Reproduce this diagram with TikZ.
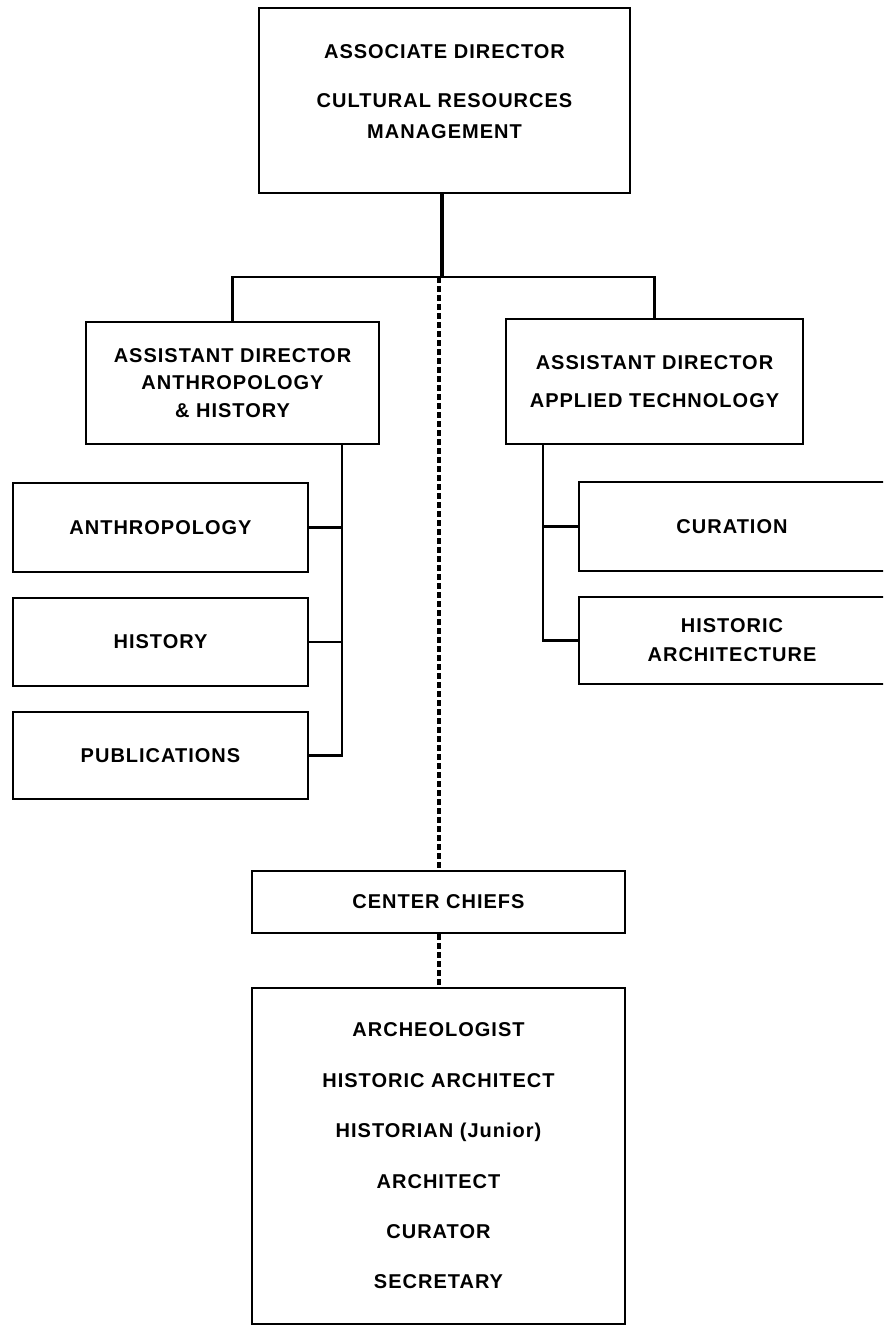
\documentclass[tikz,border=0pt]{standalone}
\usepackage{fontspec}
\newfontfamily\orgfont[LetterSpace=5]{Liberation Sans}
\begin{document}
\begin{tikzpicture}[x=1pt,y=-1pt,
    orgbox/.style={draw,line width=2.8pt,align=center,inner sep=0pt,
      font=\orgfont\bfseries\fontsize{20}{#1}\selectfont},
    orgbox/.default=28,
    orgtext/.style={align=center,inner sep=0pt,
      font=\orgfont\bfseries\fontsize{20}{#1}\selectfont},
    link/.style={line width=2.8pt},
    trunk/.style={line width=4pt},
    dashtrunk/.style={line width=4pt,dash pattern=on 6pt off 3pt}]
      \clip (0,0) rectangle (883,1329);
      \node[orgbox,minimum width=371,minimum height=185] (top) at (444.5,100.5) {};
      \node[orgtext=31] (toptext) at (444.5,92)
        {ASSOCIATE DIRECTOR\\[18pt]CULTURAL RESOURCES\\MANAGEMENT};
      \node[orgbox=27.5,minimum width=293,minimum height=122] (adah) at (232.5,383)
        {ASSISTANT DIRECTOR\\ANTHROPOLOGY\\\& HISTORY};
      \node[orgbox=38,minimum width=297,minimum height=125] (adat) at (654.5,381.5)
        {ASSISTANT DIRECTOR\\APPLIED TECHNOLOGY};
      \node[orgbox,minimum width=295,minimum height=89] (anth) at (160.5,527.5) {ANTHROPOLOGY};
      \node[orgbox,minimum width=295,minimum height=88] (hist) at (160.5,642) {HISTORY};
      \node[orgbox,minimum width=295,minimum height=87] (pubs) at (160.5,755.5) {PUBLICATIONS};
      \node[orgbox,minimum width=306,minimum height=89] (cur) at (732,526.5) {CURATION};
      \node[orgbox=29,minimum width=306,minimum height=87] (harch) at (732,640.5)
        {HISTORIC\\ARCHITECTURE};
      \node[orgbox,minimum width=373,minimum height=62] (chiefs) at (438.5,902) {CENTER CHIEFS};
      \node[orgbox=50.4,minimum width=373,minimum height=336] (staff) at (438.5,1156)
        {ARCHEOLOGIST\\HISTORIC ARCHITECT\\HISTORIAN (Junior)\\ARCHITECT\\CURATOR\\SECRETARY};
      \coordinate (split) at (442,277);
      \coordinate (ltrunk) at (342,444);
      \coordinate (rtrunk) at (543,444);
      \draw[trunk] (top.south -| split) -- (split);
      \begin{scope}[link]
        \draw (adah.north) |- (split) -| (adat.north);
        \draw (ltrunk) |- (pubs.east);
        \draw (anth.east) -- (anth.east -| ltrunk);
        \draw (hist.east) -- (hist.east -| ltrunk);
        \draw (rtrunk) |- (harch.west);
        \draw (cur.west) -- (cur.west -| rtrunk);
      \end{scope}
      \begin{scope}[dashtrunk]
        \draw (chiefs.north |- split) -- (chiefs.north);
        \draw (chiefs.south) -- (staff.north);
      \end{scope}
    \end{tikzpicture}
\end{document}
